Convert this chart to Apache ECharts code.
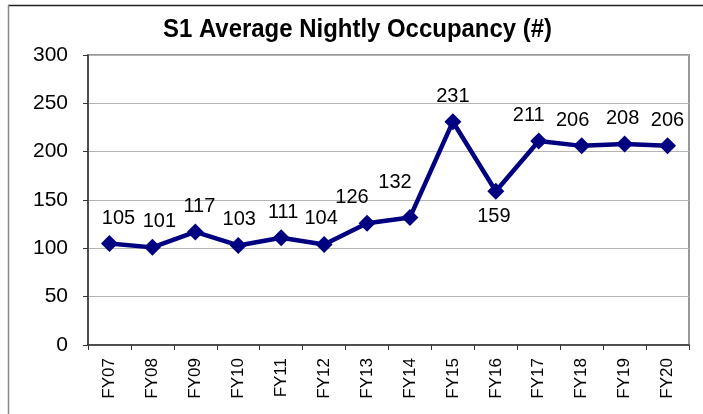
<!DOCTYPE html>
<html><head><meta charset="utf-8">
<script src="https://cdn.jsdelivr.net/npm/echarts@6/dist/echarts.min.js"></script>
<style>html,body{margin:0;padding:0;background:#fff}#c{width:703px;height:414px}</style>
</head><body><div id="c"></div>
<script>
const titleText = 'S1 Average Nightly Occupancy (#)';
const categories = ['FY07','FY08','FY09','FY10','FY11','FY12','FY13','FY14','FY15','FY16','FY17','FY18','FY19','FY20'];
const occupancy = [105,101,117,103,111,104,126,132,231,159,211,206,208,206];
const belowLabels = ['FY16'];
const yTicks = {min:0, max:300, interval:50};

// label nudges (layout only)
const labelDx = [9,7,4,1,2,-3,-15,-15,0,-2,-10,-9,-2,0];
const labelDy = [0,0,0,0,0,0,0,-9,0,0,0,0,0,0];

const font = '"Liberation Sans", Arial, sans-serif';
const titleFont = 'bold 26px "Liberation Sans", Arial, sans-serif';
const ctx = document.createElement('canvas').getContext('2d');
ctx.font = titleFont;
const titleScale = 389 / ctx.measureText(titleText).width;

const chart = echarts.init(document.getElementById('c'), null, {renderer:'canvas'});
chart.setOption({
  animation:false,
  backgroundColor:'#fff',
  graphic:[
    {type:'line', shape:{x1:8,y1:5.5,x2:703,y2:5.5}, style:{stroke:'#222',lineWidth:1.5}, silent:true},
    {type:'line', shape:{x1:8.5,y1:5,x2:8.5,y2:414}, style:{stroke:'#888',lineWidth:1.5}, silent:true},
    {type:'text', x:357.5, y:30, scaleX:titleScale, scaleY:1, silent:true,
      style:{text:titleText, font:titleFont, fill:'#000', align:'center', verticalAlign:'middle'}}
  ],
  grid:{left:88, top:55, right:14, bottom:69, show:true, borderColor:'#999', borderWidth:2, containLabel:false},
  xAxis:{type:'category', data:categories, boundaryGap:true,
    axisLine:{lineStyle:{color:'#333', width:1.5}},
    axisTick:{show:true, alignWithLabel:false, length:5, lineStyle:{color:'#333'}},
    axisLabel:{rotate:90, fontFamily:font, fontSize:17, color:'#000', margin:13}},
  yAxis:{type:'value', min:yTicks.min, max:yTicks.max, interval:yTicks.interval,
    axisLine:{show:true, lineStyle:{color:'#333', width:1.5}},
    axisTick:{show:true, inside:false, length:5, lineStyle:{color:'#333'}},
    splitLine:{lineStyle:{color:'#b4b4b4', width:1.2}},
    axisLabel:{fontFamily:font, fontSize:21, color:'#000', margin:20}},
  series:[{type:'line', data:occupancy.map((v,i)=>({value:v, label:{position: belowLabels.includes(categories[i]) ? 'bottom':'top', offset:[labelDx[i],labelDy[i]]}})),
    symbol:'diamond', symbolSize:17,
    lineStyle:{color:'#000080', width:4.5},
    itemStyle:{color:'#000080'},
    label:{show:true, fontFamily:font, fontSize:20, color:'#000', distance:7}}]
});
</script></body></html>
